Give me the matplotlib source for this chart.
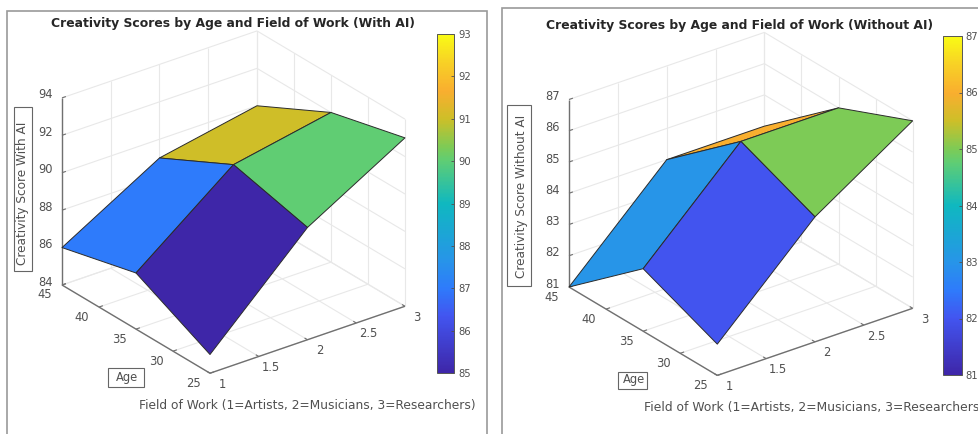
import matplotlib
matplotlib.use("Agg")
import matplotlib.pyplot as plt
import numpy as np
from matplotlib.cm import ScalarMappable
from matplotlib.colors import LinearSegmentedColormap, Normalize
from matplotlib.patches import Rectangle
from mpl_toolkits.mplot3d import proj3d

W, H = 979, 434

field = [1, 2, 3]
age = [25, 35, 45]
# rows = age, columns = field
scores_ai = [[85, 90, 93],
             [87, 91, 92],
             [86, 89, 90]]
scores_no_ai = [[82, 85, 87],
                [83, 86, 86],
                [81, 84, 84]]

field_ticks = [1, 1.5, 2, 2.5, 3]
age_ticks = [25, 30, 35, 40, 45]
z_ticks_ai = [84, 86, 88, 90, 92, 94]
z_ticks_no_ai = [81, 82, 83, 84, 85, 86, 87]
cbar_ticks_ai = [85, 86, 87, 88, 89, 90, 91, 92, 93]
cbar_ticks_no_ai = [81, 82, 83, 84, 85, 86, 87]

parula = LinearSegmentedColormap.from_list("parula", [
    (0.0, "#3e26a8"), (0.167, "#4255f0"), (0.25, "#2e7bfb"), (0.333, "#2795e8"),
    (0.5, "#0fb8c0"), (0.625, "#5ecd75"), (0.667, "#7dcb56"), (0.75, "#cdbf28"),
    (0.833, "#f9ae2f"), (0.92, "#f8d225"), (1.0, "#f9fb15")])

TEXT = "#505050"
AXIS = "#707070"
GRID = "#e8e8e8"


def px(x, y):
    return x / W, 1 - y / H


def view_xy(ax, x, y, z):
    vx, vy, _ = proj3d.proj_transform(x, y, z, ax.get_proj())
    return float(vx), float(vy)


def fit_axes(ax, corner_a, target_a, corner_b, target_b):
    # move and scale the 3d axes so two box corners land on given pixels
    def screen(corner):
        ax.apply_aspect()
        return ax.transData.transform(view_xy(ax, *corner))

    t_a = np.array([target_a[0], H - target_a[1]], dtype=float)
    t_b = np.array([target_b[0], H - target_b[1]], dtype=float)
    ax.set_position([0.2, 0.1, 0.4, 0.4 * W / H])
    scale = np.linalg.norm(t_b - t_a) / np.linalg.norm(screen(corner_b) - screen(corner_a))
    ax.set_position([0.2, 0.1, 0.4 * scale, 0.4 * scale * W / H])
    shift = t_a - screen(corner_a)
    ax.set_position([0.2 + shift[0] / W, 0.1 + shift[1] / H, 0.4 * scale, 0.4 * scale * W / H])


def tick_label(ax, x, y, z, text, dx, dy):
    ax.annotate(text, xy=view_xy(ax, x, y, z), xytext=(dx, dy), textcoords="offset pixels",
                ha="center", va="center", fontsize=8.3, color=TEXT, annotation_clip=False,
                zorder=5)


def line3d(ax, xs, ys, zs, color, lw=0.8, zorder=1):
    ax.plot(xs, ys, zs, color=color, lw=lw, zorder=zorder, solid_capstyle="butt")


def pixel_box(left, top, right, bottom, color, lw):
    fig.add_artist(Rectangle(px(left, bottom), (right - left) / W, (bottom - top) / H,
                             transform=fig.transFigure, fill=False, edgecolor=color, lw=lw))


def draw_panel(scores, z_ticks, cbar_ticks, origin, right_corner, cbar_box, title, title_xy,
               zlabel, zlabel_xy, zlabel_box, age_xy, age_box, field_xy, field_ha, field_size,
               frame):
    X, Y = np.meshgrid(field, age)
    Z = np.array(scores, dtype=float)
    norm = Normalize(cbar_ticks[0], cbar_ticks[-1])
    z0, z1 = z_ticks[0], z_ticks[-1]
    x0, x1 = field_ticks[0], field_ticks[-1]
    y0, y1 = age_ticks[0], age_ticks[-1]

    ax = fig.add_subplot(projection="3d", proj_type="ortho", computed_zorder=False)
    ax.set_axis_off()
    ax.patch.set_alpha(0)

    # back walls and floor
    for t in field_ticks:
        line3d(ax, [t, t], [y1, y1], [z0, z1], GRID)
        line3d(ax, [t, t], [y0, y1], [z0, z0], GRID)
    for t in age_ticks:
        line3d(ax, [x1, x1], [t, t], [z0, z1], GRID)
        line3d(ax, [x0, x1], [t, t], [z0, z0], GRID)
    for t in z_ticks:
        line3d(ax, [x0, x1], [y1, y1], [t, t], GRID)
        line3d(ax, [x1, x1], [y0, y1], [t, t], GRID)

    ax.plot_surface(X, Y, Z, rstride=1, cstride=1, facecolors=parula(norm(Z)), shade=False,
                    edgecolor="#2b2b2b", linewidth=0.7, antialiased=True, zorder=3)

    # axis lines and tick marks
    line3d(ax, [x0, x0], [y1, y1], [z0, z1], AXIS, 1.0, 2)
    line3d(ax, [x0, x0], [y0, y1], [z0, z0], AXIS, 1.0, 2)
    line3d(ax, [x0, x1], [y0, y0], [z0, z0], AXIS, 1.0, 2)
    for t in field_ticks:
        line3d(ax, [t, t], [y0, y0 + 0.4], [z0, z0], AXIS, 0.8, 2)
    for t in age_ticks:
        line3d(ax, [x0, x0 + 0.04], [t, t], [z0, z0], AXIS, 0.8, 2)
    for t in z_ticks:
        line3d(ax, [x0, x0 + 0.04], [y1, y1], [t, t], AXIS, 0.8, 2)

    ax.set_xlim(x0, x1, view_margin=0)
    ax.set_ylim(y0, y1, view_margin=0)
    ax.set_zlim(z0, z1, view_margin=0)
    ax.view_init(elev=26.9, azim=-127.2)
    ax.set_box_aspect((245, 245, 210))

    fit_axes(ax, (x0, y1, z0), origin, (x1, y0, z0), right_corner)

    for t in z_ticks:
        tick_label(ax, x0, y1, t, str(t), -16, 3)
    for t in age_ticks:
        tick_label(ax, x0, t, z0, str(t), -17, -10)
    for t in field_ticks:
        tick_label(ax, t, y0, z0, f"{t:g}", 12, -11)

    # panel frame, cut off by the image edge like in the source
    pixel_box(*frame, "#9a9a9a", 1.2)

    fig.text(*px(*title_xy), title, ha="center", va="center", fontsize=8.9,
             fontweight="bold", color="#262626")
    fig.text(*px(*zlabel_xy), zlabel, rotation=90, ha="center", va="center", fontsize=8.7,
             color=TEXT)
    pixel_box(*zlabel_box, "#666666", 0.8)
    fig.text(*px(*age_xy), "Age", ha="center", va="center", fontsize=8.3, color=TEXT)
    pixel_box(*age_box, "#666666", 0.8)
    fig.text(*px(*field_xy), "Field of Work (1=Artists, 2=Musicians, 3=Researchers)",
             ha=field_ha, va="center", fontsize=field_size, color=TEXT)

    left, top, right, bottom = cbar_box
    cax = fig.add_axes([left / W, 1 - bottom / H, (right - left) / W, (bottom - top) / H])
    cbar = fig.colorbar(ScalarMappable(norm=norm, cmap=parula), cax=cax, ticks=cbar_ticks)
    cbar.ax.tick_params(direction="in", length=2, width=0.6, labelsize=7.2, colors=TEXT, pad=3)
    cbar.outline.set_edgecolor("#555555")
    cbar.outline.set_linewidth(0.7)


fig = plt.figure(figsize=(W / 100, H / 100), dpi=100, facecolor="white")

draw_panel(scores_ai, z_ticks_ai, cbar_ticks_ai, (62, 285), (405, 306), (436.7, 34, 454.3, 373),
           "Creativity Scores by Age and Field of Work (With AI)", (233, 24),
           "Creativity Score With AI", (23, 193), (14, 107, 32, 271),
           (127, 378), (108, 368, 144, 387), (307, 406), "center", 8.85,
           (7, 11, 487, 450))
draw_panel(scores_no_ai, z_ticks_no_ai, cbar_ticks_no_ai, (569, 287), (912.7, 308),
           (943, 36, 961.7, 375),
           "Creativity Scores by Age and Field of Work (Without AI)", (740, 26),
           "Creativity Score Without AI", (522, 196), (507, 105, 531, 286),
           (634, 380), (618, 372, 647, 389), (644, 408), "left", 8.9,
           (502, 8, 1000, 450))

fig.savefig("out.png", dpi=100)
